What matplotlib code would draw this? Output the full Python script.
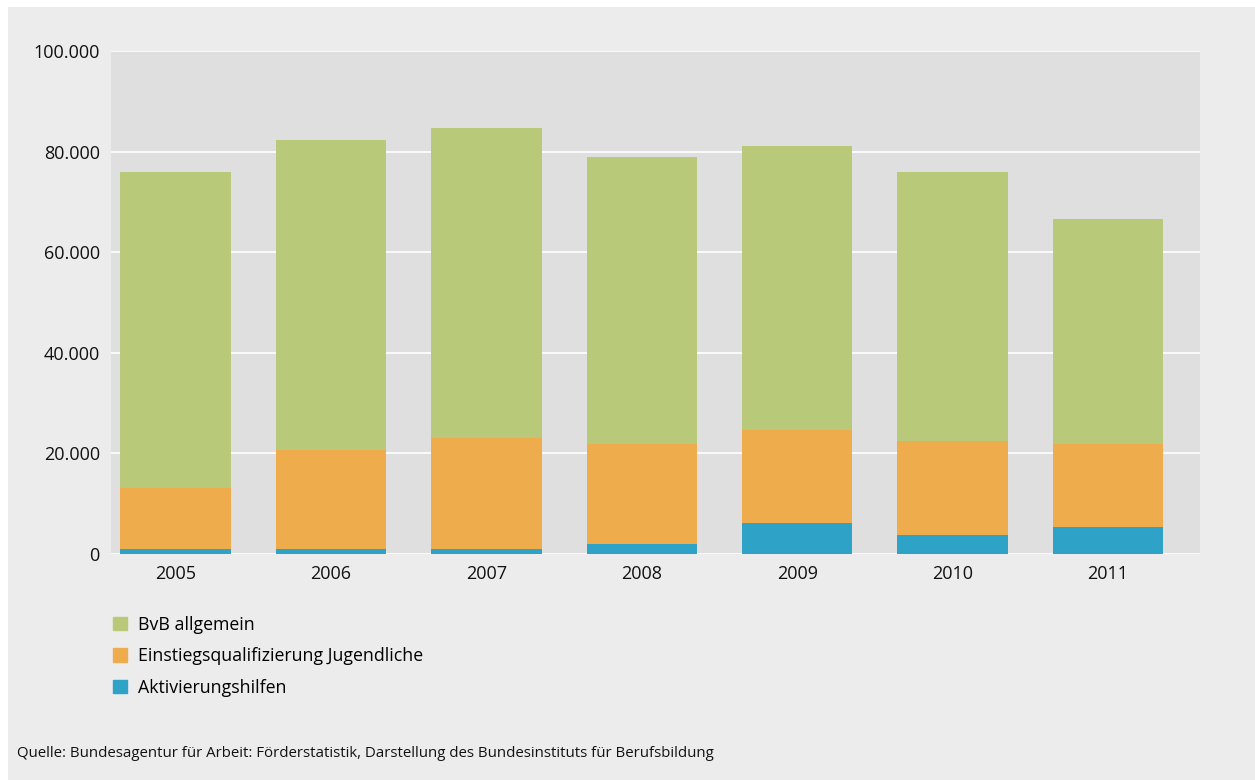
import matplotlib.pyplot as plt
from matplotlib.patches import Patch, Rectangle
from matplotlib.ticker import FuncFormatter

years = ["2005", "2006", "2007", "2008", "2009", "2010", "2011"]
aktivierung = [1000, 1000, 1000, 1900, 6100, 3700, 5300]
einstieg = [12200, 19700, 22000, 20000, 18600, 18800, 16600]
bvb = [62700, 61700, 61700, 57000, 56400, 53400, 44700]

names = ["BvB allgemein", "Einstiegsqualifizierung Jugendliche", "Aktivierungshilfen"]
colors = ["#b8c97a", "#efac4c", "#2ea3c7"]

plt.rcParams["font.family"] = ["Open Sans", "DejaVu Sans"]

fig = plt.figure(figsize=(12.55, 7.8), dpi=100, facecolor="white")
# grey panel behind everything, white strip on top and left
fig.patches.append(Rectangle((8 / 1255, 0), 1, 773 / 780, transform=fig.transFigure,
                             facecolor="#ececec", edgecolor="none", zorder=-5))

ax = fig.add_axes([0.0884, 0.2897, 0.8676, 0.6449])
ax.set_facecolor("#dfdfdf")

x = list(range(len(years)))
w = 0.71
bottom2 = aktivierung
bottom3 = [a + b for a, b in zip(aktivierung, einstieg)]
ax.bar(x, aktivierung, w, color=colors[2], zorder=3)
ax.bar(x, einstieg, w, bottom=bottom2, color=colors[1], zorder=3)
ax.bar(x, bvb, w, bottom=bottom3, color=colors[0], zorder=3)

ax.set_ylim(0, 100000)
ax.set_xlim(-0.415, 6.59)
ax.set_yticks(range(0, 100001, 20000))
ax.yaxis.set_major_formatter(FuncFormatter(lambda v, p: f"{int(v):,}".replace(",", ".")))
ax.set_xticks(x)
ax.set_xticklabels(years)
ax.tick_params(length=0, labelsize=13, colors="#111111", pad=8)
ax.grid(axis="y", color="white", linewidth=1.2, zorder=1)
for s in ax.spines.values():
    s.set_visible(False)

handles = [Patch(color=c) for c in colors]
leg = fig.legend(handles, names, loc="upper left", bbox_to_anchor=(0.077, 0.231),
                 frameon=False, fontsize=12.8, handlelength=0.8, handleheight=0.8,
                 handletextpad=0.6, labelspacing=0.76)

fig.text(0.0135, 0.030, "Quelle: Bundesagentur für Arbeit: Förderstatistik, Darstellung des Bundesinstituts für Berufsbildung",
         fontsize=10.8, color="#111111")

fig.savefig("out.png", dpi=100, facecolor=fig.get_facecolor())
